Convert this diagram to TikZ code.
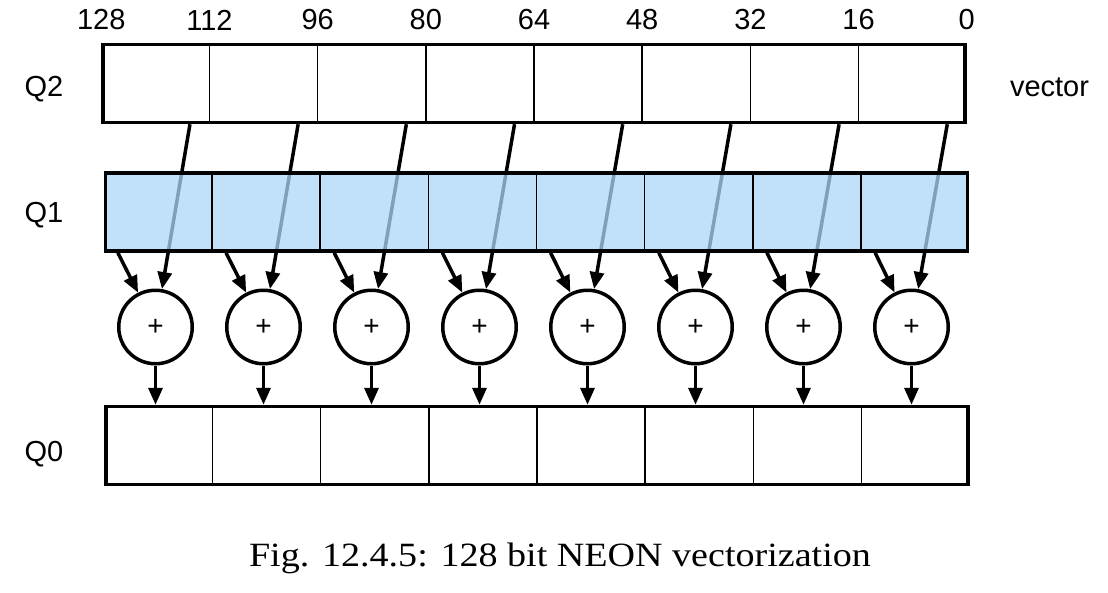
\documentclass[tikz,border=0pt]{standalone}
\usepackage{fontspec}
\setmainfont{Liberation Serif}
\setsansfont{Liberation Sans}
\newfontfamily\capfont[FakeStretch=1.12]{Liberation Serif}
\usetikzlibrary{calc,arrows.meta}

\definecolor{regblue}{RGB}{172,214,248}

\tikzstyle{reg} = [draw, line width=3.5pt, minimum width=862pt, minimum height=78pt, inner sep=0pt]
\tikzstyle{sep} = [draw, line width=1.5pt]
\tikzstyle{add} = [circle, draw, line width=3.5pt, minimum size=73.5pt, inner sep=0pt, font=\sffamily\fontsize{28}{32}\selectfont]
\tikzstyle{arr} = [draw, line width=3.5pt, -{Triangle[length=17pt,width=14pt]}]
\tikzstyle{bits} = [anchor=south, inner sep=0pt, font=\sffamily\fontsize{29}{34}\selectfont]
\tikzstyle{qname} = [anchor=base, inner sep=0pt, font=\sffamily\fontsize{29}{34}\selectfont]

\begin{document}
\begin{tikzpicture}[x=1pt,y=-1pt]
	\useasboundingbox (0,0) rectangle (1108,592);
	\node (q2) at (534,83.5) [reg] {};
	\foreach \k in {1,...,7}
		\path[sep] ($(q2.north west)!\k/8!(q2.north east)$) -- ($(q2.south west)!\k/8!(q2.south east)$);
	\foreach \k/\b in {0/128,1/112,2/96,3/80,4/64,5/48,6/32,7/16,8/0}
		\node (b\k) at ($(q2.north west)!\k/8!(q2.north east)+(0,-12.5)$) [bits] {\b};
	\node (lq2) at (44,96.7) [qname] {Q2};
	\node (vec) at (1049.5,96.7) [qname] {vector};
	\foreach \k in {0,...,7}
		\node (add\k) at (155.5+108*\k,327) [add] {+};
	\foreach \k in {0,...,7} {
		\coordinate (s\k) at ($(q2.south west)!{(\k+0.82)/8}!(q2.south east)$);
		\path[arr] (s\k) -- (add\k);
	}
	\node (q1) at (536.5,212) [reg, fill=regblue, fill opacity=0.75] {};
	\foreach \k in {1,...,7}
		\path[sep] ($(q1.north west)!\k/8!(q1.north east)$) -- ($(q1.south west)!\k/8!(q1.south east)$);
	\node (lq1) at (44,222.5) [qname] {Q1};
	\foreach \k in {0,...,7} {
		\coordinate (t\k) at ($(q1.south west)!{(\k+0.13)/8}!(q1.south east)$);
		\path[arr] (t\k) -- (add\k);
	}
	\node (q0) at (537,445.5) [reg] {};
	\foreach \k in {1,...,7}
		\path[sep] ($(q0.north west)!\k/8!(q0.north east)$) -- ($(q0.south west)!\k/8!(q0.south east)$);
	\node (lq0) at (44,461.7) [qname] {Q0};
	\foreach \k in {0,...,7}
		\path[arr] (add\k) -- (add\k |- q0.north);
	\node (cap) at (560,566.7) [anchor=base, font=\capfont\fontsize{34}{40}\selectfont] {Fig. 12.4.5: 128 bit NEON vectorization};
\end{tikzpicture}
\end{document}
